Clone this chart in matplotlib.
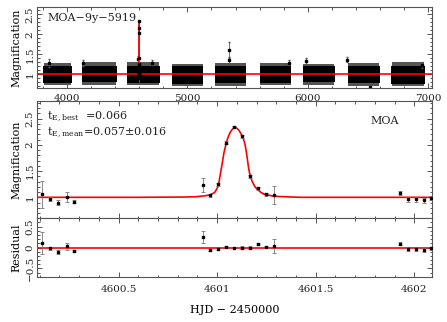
import matplotlib
matplotlib.use("Agg")
import matplotlib.pyplot as plt
from matplotlib.ticker import MultipleLocator, FuncFormatter

plt.rcParams['font.family'] = ['DejaVu Serif']
plt.rcParams['mathtext.fontset'] = 'dejavuserif'
plt.rcParams['axes.unicode_minus'] = True

# ---------------- data ----------------
# Event data (zoom panels)
hjd = [4600.111, 4600.153, 4600.195, 4600.238, 4600.275,
       4600.928, 4600.966, 4601.006, 4601.047, 4601.087, 4601.127,
       4601.166, 4601.208, 4601.248, 4601.288,
       4601.927, 4601.966, 4602.008, 4602.051, 4602.085]
mag = [1.06, 0.97, 0.90, 1.01, 0.92,
       1.235, 1.04, 1.25, 2.04, 2.34, 2.16,
       1.40, 1.17, 1.06, 1.04,
       1.08, 0.96, 0.96, 0.94, 0.98]
mag_err = [0.26, 0.04, 0.04, 0.09, 0.03,
           0.14, 0.03, 0.03, 0.03, 0.02, 0.03,
           0.03, 0.03, 0.03, 0.17,
           0.04, 0.04, 0.04, 0.04, 0.04]
resid = [0.10, -0.02, -0.11, 0.03, -0.08,
         0.25, -0.06, -0.03, 0.01, 0.00, 0.00,
         0.00, 0.09, 0.01, 0.04,
         0.09, -0.04, -0.04, -0.06, -0.02]

# Model curve
model_t = [4600.088, 4600.600, 4600.830, 4600.890, 4600.941, 4600.966, 4600.987,
           4601.000, 4601.009, 4601.017, 4601.026, 4601.034, 4601.048, 4601.058,
           4601.068, 4601.078, 4601.088, 4601.098, 4601.110, 4601.121, 4601.132,
           4601.142, 4601.149, 4601.155, 4601.161, 4601.170, 4601.178, 4601.190,
           4601.204, 4601.220, 4601.237, 4601.261, 4601.288, 4601.347, 4601.424,
           4602.088]
model_A = [1.00, 1.00, 1.005, 1.01, 1.03, 1.05, 1.09,
           1.17, 1.28, 1.46, 1.65, 1.84, 2.06, 2.17,
           2.25, 2.30, 2.33, 2.32, 2.28, 2.21, 2.13,
           2.00, 1.84, 1.68, 1.52, 1.38, 1.30, 1.21,
           1.15, 1.10, 1.06, 1.04, 1.02, 1.01, 1.00,
           1.00]

# Full 9-year light curve: observing seasons (dense clouds) and outliers
season_start = [3806, 4124, 4497, 4870, 5229, 5601, 5960, 6333, 6693]
season_end = [4041, 4414, 4773, 5132, 5491, 5864, 6223, 6596, 6969]
core_lo = [0.79, 0.80, 0.79, 0.77, 0.78, 0.79, 0.80, 0.78, 0.77]
core_hi = [1.21, 1.22, 1.22, 1.20, 1.21, 1.21, 1.20, 1.21, 1.22]
env_lo = [0.72, 0.74, 0.73, 0.70, 0.70, 0.72, 0.74, 0.70, 0.70]
env_hi = [1.29, 1.31, 1.30, 1.27, 1.28, 1.29, 1.27, 1.29, 1.30]
out_t = [3856, 4138, 4593, 4704, 5347, 5347, 5844, 5983, 6328, 6949, 6513]
out_A = [1.29, 1.29, 1.39, 1.29, 1.62, 1.35, 1.29, 1.33, 1.37, 1.24, 0.67]
out_e = [0.10, 0.08, 0.08, 0.06, 0.20, 0.08, 0.06, 0.08, 0.07, 0.08, 0.05]

# ---------------- figure ----------------
fig = plt.figure(figsize=(4.47, 3.22), dpi=100)
L, W = 0.0834, 0.8824
ax1 = fig.add_axes([L, 0.7258, W, 0.2516])
ax2 = fig.add_axes([L, 0.322, W, 0.3653])
ax3 = fig.add_axes([L, 0.1407, W, 0.1813])

fs = 7.5
spine_col = '#555555'
for ax in (ax1, ax2, ax3):
    for s in ax.spines.values():
        s.set_color(spine_col)
        s.set_linewidth(0.8)
    ax.tick_params(which='both', direction='in', top=True, right=True,
                   colors=spine_col, labelcolor='#222222', labelsize=fs, width=0.7)
    ax.tick_params(which='major', length=3.5)
    ax.tick_params(which='minor', length=1.8)

fmt = FuncFormatter(lambda v, p: f'{v:g}'.replace('-', '\u2212'))

# ---- top panel ----
ax1.axhline(1.0, color='red', lw=1.2, zorder=3)
for s0, s1, a, b, c, d in zip(season_start, season_end, core_lo, core_hi, env_lo, env_hi):
    ax1.fill_between([s0 + 4, s1 - 4], [c, c], [d, d], color='#555555', lw=0, zorder=1)
    ax1.fill_between([s0, s1], [a, a], [b, b], color='black', lw=0, zorder=2)
ax1.errorbar(out_t, out_A, yerr=out_e, fmt='s', ms=2, color='black',
             ecolor='#555555', elinewidth=0.6, capsize=1, zorder=2)
ax1.plot(model_t, model_A, color='red', lw=1.0, zorder=3)
ax1.errorbar(hjd, mag, yerr=mag_err, fmt='s', ms=2, color='black',
             ecolor='#777777', elinewidth=0.6, capsize=0, zorder=4)
ax1.set_xlim(3755, 7028)
ax1.set_ylim(0.65, 2.68)
ax1.xaxis.set_major_locator(MultipleLocator(1000))
ax1.xaxis.set_minor_locator(MultipleLocator(200))
ax1.yaxis.set_major_locator(MultipleLocator(0.5))
ax1.yaxis.set_minor_locator(MultipleLocator(0.1))
ax1.yaxis.set_major_formatter(fmt)
ax1.tick_params(axis='x', pad=4)
ax1.set_ylabel('Magnification', fontsize=fs + 0.5, labelpad=3)
ax1.text(0.025, 0.93, 'MOA\u22129y\u22125919', transform=ax1.transAxes,
         fontsize=fs + 0.5, va='top', ha='left', color='#222222')

# ---- middle panel ----
ax2.plot(model_t, model_A, color='red', lw=1.2, zorder=2)
ax2.errorbar(hjd, mag, yerr=mag_err, fmt='s', ms=2, color='black',
             ecolor='#777777', elinewidth=0.6, capsize=1.2, capthick=0.6, zorder=3)
ax2.set_xlim(4600.088, 4602.088)
ax2.set_ylim(0.6, 2.84)
ax2.xaxis.set_major_locator(MultipleLocator(0.5))
ax2.xaxis.set_minor_locator(MultipleLocator(0.1))
ax2.yaxis.set_major_locator(MultipleLocator(0.5))
ax2.yaxis.set_minor_locator(MultipleLocator(0.1))
ax2.yaxis.set_major_formatter(fmt)
ax2.tick_params(axis='x', labelbottom=False)
ax2.set_ylabel('Magnification', fontsize=fs + 0.5, labelpad=3)
ax2.text(0.025, 0.925, r'$\mathregular{t_{E,best}}$  =0.066', transform=ax2.transAxes,
         fontsize=fs + 0.5, va='top', ha='left', color='#222222')
ax2.text(0.025, 0.785, r'$\mathregular{t_{E,mean}}$' + '=0.057\u00b10.016', transform=ax2.transAxes,
         fontsize=fs + 0.5, va='top', ha='left', color='#222222')
ax2.text(0.88, 0.83, 'MOA', transform=ax2.transAxes,
         fontsize=fs + 0.5, va='center', ha='center', color='#222222')

# ---- bottom panel ----
ax3.axhline(0.0, color='red', lw=1.2, zorder=2)
ax3.errorbar(hjd, resid, yerr=mag_err, fmt='s', ms=2, color='black',
             ecolor='#777777', elinewidth=0.6, capsize=1.2, capthick=0.6, zorder=3)
ax3.set_xlim(4600.088, 4602.088)
ax3.set_ylim(-0.7, 0.7)
ax3.xaxis.set_major_locator(MultipleLocator(0.5))
ax3.xaxis.set_minor_locator(MultipleLocator(0.1))
ax3.yaxis.set_major_locator(MultipleLocator(0.5))
ax3.yaxis.set_minor_locator(MultipleLocator(0.1))
ax3.yaxis.set_major_formatter(fmt)
ax3.xaxis.set_major_formatter(FuncFormatter(lambda v, p: f'{v:g}'))
ax3.tick_params(axis='x', pad=6)
ax3.set_ylabel('Residual', fontsize=fs + 0.5, labelpad=3)
ax3.set_xlabel('HJD \u2212 2450000', fontsize=fs + 0.5, labelpad=8)

for ax in (ax1, ax2, ax3):
    for lab in ax.get_yticklabels():
        lab.set_rotation(90)
        lab.set_va('center')
    ax.tick_params(axis='y', pad=2)

fig.savefig('out.png', dpi=100)
